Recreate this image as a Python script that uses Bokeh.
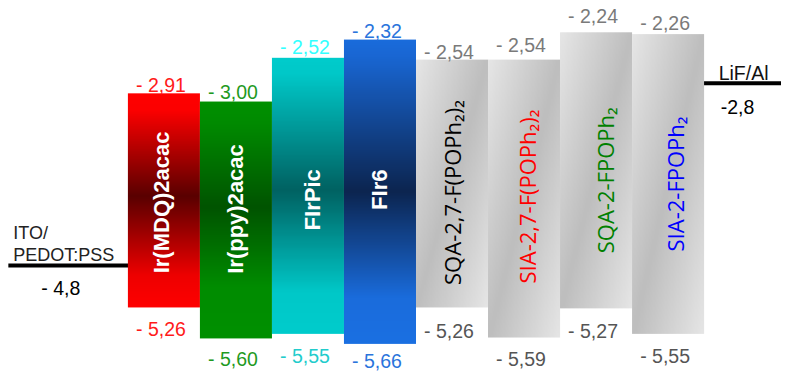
import numpy as np
from bokeh.plotting import figure
from bokeh.models import Range1d, ColumnDataSource
from bokeh.core.properties import value
from bokeh.embed import file_html
from bokeh.resources import INLINE

# ---------------- data ----------------
materials = ["Ir(MDQ)2acac", "Ir(ppy)2acac", "FIrPic", "FIr6",
             "SQA-2,7-F(POPh\u2082)\u2082", "SIA-2,7-F(POPh\u2082)\u2082",
             "SQA-2-FPOPh\u2082", "SIA-2-FPOPh\u2082"]
lumo = [-2.91, -3.00, -2.52, -2.32, -2.54, -2.54, -2.24, -2.26]
homo = [-5.26, -5.60, -5.55, -5.66, -5.26, -5.59, -5.27, -5.55]
electrode_names = ["ITO/", "PEDOT:PSS", "LiF/Al"]
ito_level = -4.8
lif_level = -2.8

# ---------------- styles ----------------
top_colors = ["#ff1a1a", "#1f9a1f", "#33ffff", "#2a74dc",
              "#7a7a7a", "#7a7a7a", "#7a7a7a", "#7a7a7a"]
bot_colors = ["#ff1a1a", "#1f9a1f", "#22cccc", "#2a74dc",
              "#555555", "#555555", "#555555", "#555555"]
name_colors = ["white", "white", "white", "white",
               "black", "#ff0000", "#008000", "#0000ff"]
top_gap = [8, 10, 11, 9, 8, 15, 16, 11]
bot_gap = [22, 21, 22, 17, 24, 21, 23, 22]
name_dx = [-2, 0, 5, 0, 0, 3, 9, 7]
name_dy = [2, -11, 4, -2, 9, -2, 10, 0]

vert_stops = [
    ([0, 0.08, 0.48, 0.85, 1], ["#ff0000", "#fc0000", "#5a0000", "#ee0000", "#ff0000"]),
    ([0, 0.1, 0.45, 0.78, 1], ["#009100", "#008a00", "#005400", "#008c00", "#009000"]),
    ([0, 0.06, 0.48, 0.85, 1], ["#00cccc", "#00c8c8", "#006262", "#00c8c8", "#00cccc"]),
    ([0, 0.06, 0.5, 0.85, 1], ["#1a6cdc", "#1966d2", "#0c2550", "#1a6cdc", "#1a70e2"]),
]


def hex2rgb(h):
    h = h.lstrip("#")
    return [int(h[i:i + 2], 16) for i in (0, 2, 4)]


def vertical_img(stops, colors, nr=300, nc=60):
    t = 1 - np.linspace(0, 1, nr)  # row 0 = bottom -> t measured from top
    rgb = np.array([hex2rgb(c) for c in colors], dtype=float)
    img = np.zeros((nr, nc), dtype=np.uint32)
    view = img.view(dtype=np.uint8).reshape((nr, nc, 4))
    for k in range(3):
        col = np.interp(t, stops, rgb[:, k])
        view[:, :, k] = col[:, None].astype(np.uint8)
    view[:, :, 3] = 255
    return img


def gray_img(nr=300, nc=60, dark=0xBE, light=0xE6):
    yf = 1 - np.linspace(0, 1, nr)[:, None]
    xf = np.linspace(0, 1, nc)[None, :]
    v = np.abs(xf + yf - 1)
    g = dark + (light - dark) * v
    img = np.zeros((nr, nc), dtype=np.uint32)
    view = img.view(dtype=np.uint8).reshape((nr, nc, 4))
    for k in range(3):
        view[:, :, k] = g.astype(np.uint8)
    view[:, :, 3] = 255
    return img


n = len(materials)
xs = list(range(n))
centers = [i + 0.5 for i in xs]
mids = [(a + b) / 2 for a, b in zip(lumo, homo)]

p = figure(width=781, height=371, output_backend="svg", toolbar_location=None,
           x_range=Range1d(-1.769, 9.075), y_range=Range1d(-5.963, -1.891),
           min_border=0, outline_line_color=None)
p.axis.visible = False
p.grid.visible = False
p.background_fill_color = "white"
p.border_fill_color = "white"

ito_start = -1.66          # left end of the ITO line (layout)
lif_start = n - 0.02       # left end of the LiF line (layout)

# electrodes
p.segment(x0=[ito_start], x1=[0.02], y0=[ito_level], y1=[ito_level],
          line_color="black", line_width=4)
p.segment(x0=[lif_start], x1=[p.x_range.end], y0=[lif_level], y1=[lif_level],
          line_color="black", line_width=4)

# bars (gradient-filled images spanning LUMO..HOMO)
imgs = []
for i in range(n):
    if i < 4:
        s, c = vert_stops[i]
        imgs.append(vertical_img(s, c))
    else:
        imgs.append(gray_img())
p.image_rgba(image=imgs, x=xs, y=homo, dw=[1] * n,
             dh=[t - b for t, b in zip(lumo, homo)])

fmt = lambda v: "- " + f"{abs(v):.2f}".replace(".", ",")
num_font = value("Liberation Sans")

src = ColumnDataSource(dict(x=centers, lumo=lumo, homo=homo, mid=mids,
                            tl=[fmt(v) for v in lumo], bl=[fmt(v) for v in homo],
                            tc=top_colors, bc=bot_colors,
                            tg=[-g for g in top_gap], bg=bot_gap,
                            name=materials, nc=name_colors,
                            ndx=name_dx, ndy=name_dy))

p.text(x="x", y="lumo", text="tl", source=src, text_color="tc",
       text_font=num_font, text_font_size="19.5px", text_align="center",
       text_baseline="alphabetic", x_offset=-3, y_offset="tg")
p.text(x="x", y="homo", text="bl", source=src, text_color="bc",
       text_font=num_font, text_font_size="19.5px", text_align="center",
       text_baseline="alphabetic", x_offset=-3, y_offset="bg")

# material names (vertical)
src_c = ColumnDataSource({k: v[:4] for k, v in src.data.items()})
src_g = ColumnDataSource({k: v[4:] for k, v in src.data.items()})
p.text(x="x", y="mid", text="name", source=src_c, text_color="nc",
       text_font=value("Liberation Sans"), text_font_style="bold",
       text_font_size="22px", angle=np.pi / 2, text_align="center",
       text_baseline="middle", x_offset="ndx", y_offset="ndy")
p.text(x="x", y="mid", text="name", source=src_g, text_color="nc",
       text_font=value("Open Sans"), text_font_size="22px",
       angle=np.pi / 2, text_align="center",
       text_baseline="middle", x_offset="ndx", y_offset="ndy")

# electrode labels
p.text(x=[ito_start] * 2, y=[ito_level] * 2, text=electrode_names[:2],
       text_color="#222222", text_font=num_font, text_font_size="18px",
       text_baseline="alphabetic", x_offset=5, y_offset=[-33, -11])
p.text(x=[ito_start], y=[ito_level],
       text=["- " + f"{abs(ito_level):.1f}".replace(".", ",")],
       text_color="black", text_font=num_font, text_font_size="19.5px",
       text_baseline="alphabetic", x_offset=33, y_offset=22)
p.text(x=[lif_start], y=[lif_level], text=[electrode_names[2]],
       text_color="#111111", text_font=num_font, text_font_size="19.5px",
       text_baseline="alphabetic", x_offset=16, y_offset=-10)
p.text(x=[lif_start], y=[lif_level], text=[f"{lif_level:.1f}".replace(".", ",")],
       text_color="black", text_font=num_font, text_font_size="19.5px",
       text_baseline="alphabetic", x_offset=18, y_offset=24)

open("out.html", "w").write(file_html(p, INLINE))
